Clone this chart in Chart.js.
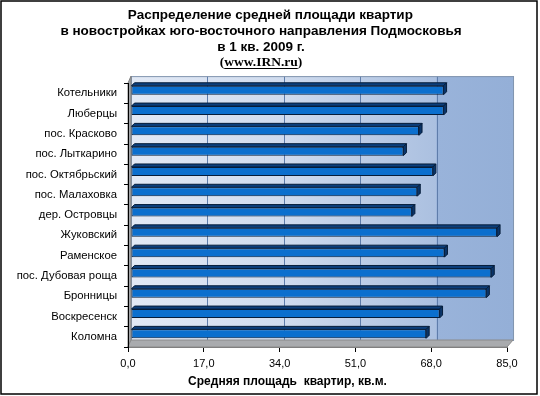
<!DOCTYPE html>
<html><head><meta charset="utf-8">
<script src="https://cdn.jsdelivr.net/npm/chart.js@4/dist/chart.umd.min.js"></script>
<style>html,body{margin:0;padding:0;background:#fff}</style>
</head><body>
<canvas id="c" width="540" height="396"></canvas>
<script>
const categories = ['Котельники','Люберцы','пос. Красково','пос. Лыткарино','пос. Октябрьский','пос. Малаховка','дер. Островцы','Жуковский','Раменское','пос. Дубовая роща','Бронницы','Воскресенск','Коломна'];
const avgArea = [70.1, 70.1, 64.6, 61.1, 67.7, 64.2, 63.0, 82.1, 70.3, 80.8, 79.7, 69.2, 66.2];
const xTickLabels = ['0,0','17,0','34,0','51,0','68,0','85,0'];
const titleLines = ['     Распределение средней площади квартир','в новостройках юго-восточного направления Подмосковья','в 1 кв. 2009 г.'];
const subtitleText = '(www.IRN.ru)';
const xAxisTitle = 'Средняя площадь  квартир, кв.м.';

const SANS = 'Arial, "Liberation Sans", sans-serif';
const SERIF = '"Times New Roman", "Liberation Serif", serif';
const DX = 3, DY = 7, K = 1.008;   // wall depth offset
const BX = 3, BY = 3;              // bar depth

const wallPlugin = {
  id: 'wall',
  beforeDraw(chart) {
    const ctx = chart.ctx;
    const {left, right, top, bottom} = chart.chartArea;
    const xs = chart.scales.x;
    const bxp = p => left + DX + (p - left) * K;
    const wl = bxp(left), wr = bxp(right), wt = top - DY, wb = bottom - DY;
    ctx.save();
    const g = ctx.createLinearGradient(wl, 0, wr, 0);
    const p68 = (bxp(xs.getPixelForValue(68)) - wl) / (wr - wl);
    g.addColorStop(0, '#e2e9f5');
    g.addColorStop(p68 * 0.5, '#cfdbee');
    g.addColorStop(p68 - 0.001, '#abc0e0');
    g.addColorStop(p68, '#99b3da');
    g.addColorStop(1, '#94afd7');
    ctx.fillStyle = g;
    ctx.fillRect(wl, wt, wr - wl, wb - wt);
    ctx.strokeStyle = '#5f7dab';
    ctx.lineWidth = 1;
    xs.ticks.forEach(t => {
      const x = Math.round(bxp(xs.getPixelForValue(t.value))) + 0.5;
      ctx.beginPath(); ctx.moveTo(x, wt); ctx.lineTo(x, wb); ctx.stroke();
    });
    ctx.strokeStyle = '#8497b0';
    ctx.strokeRect(wl + 0.5, wt + 0.5, wr - wl, wb - wt);
    ctx.beginPath();
    ctx.moveTo(left, top); ctx.lineTo(wl, wt); ctx.lineTo(wl, wb); ctx.lineTo(left, bottom); ctx.closePath();
    ctx.fillStyle = '#a3a5a8'; ctx.fill();
    ctx.strokeStyle = '#808080'; ctx.stroke();
    ctx.beginPath();
    ctx.moveTo(left, bottom); ctx.lineTo(right, bottom); ctx.lineTo(wr, wb); ctx.lineTo(wl, wb); ctx.closePath();
    ctx.fillStyle = '#a9abae'; ctx.fill();
    ctx.strokeStyle = '#8a8a8a'; ctx.stroke();
    ctx.restore();
  }
};

const bar3dPlugin = {
  id: 'bar3d',
  beforeDatasetsDraw(chart) {
    chart.ctx.save();
    chart.ctx.translate(3, -3);
  },
  afterDatasetsDraw(chart) {
    const ctx = chart.ctx;
    const meta = chart.getDatasetMeta(0);
    meta.data.forEach(el => {
      const {x, y, base, height} = el.getProps(['x','y','base','height'], true);
      const t = y - height / 2, b = y + height / 2;
      ctx.lineWidth = 1;
      ctx.strokeStyle = '#061d3a';
      ctx.beginPath();
      ctx.moveTo(base, t); ctx.lineTo(base + BX, t - BY); ctx.lineTo(x + BX, t - BY); ctx.lineTo(x, t); ctx.closePath();
      ctx.fillStyle = '#0c3f7c'; ctx.fill(); ctx.stroke();
      ctx.beginPath();
      ctx.moveTo(x, t); ctx.lineTo(x + BX, t - BY); ctx.lineTo(x + BX, b - BY); ctx.lineTo(x, b); ctx.closePath();
      ctx.fillStyle = '#0a3468'; ctx.fill(); ctx.stroke();
    });
    ctx.restore();
  }
};

const textPlugin = {
  id: 'texts',
  afterDraw(chart) {
    const ctx = chart.ctx;
    const xs = chart.scales.x;
    ctx.save();
    ctx.font = 'bold 12px ' + SANS;
    ctx.fillStyle = '#000';
    ctx.textAlign = 'center';
    ctx.textBaseline = 'middle';
    ctx.fillText(xAxisTitle, (xs.left + xs.right) / 2 - 30, xs.bottom - 14);
    const box = chart.boxes.find(bx => bx.options && bx.options.text === subtitleText);
    if (box) {
      ctx.font = 'bold 13.5px ' + SERIF;
      const full = ctx.measureText(subtitleText).width;
      const par = ctx.measureText('(').width;
      const link = ctx.measureText(subtitleText.slice(1, -1)).width;
      const cx = (box.left + box.right) / 2;
      const y = Math.round(box.top + 7.75 + 6) + 0.5;
      const x0 = cx - full / 2 + par;
      ctx.strokeStyle = '#000'; ctx.lineWidth = 1;
      ctx.beginPath(); ctx.moveTo(x0, y); ctx.lineTo(x0 + link, y); ctx.stroke();
    }
    ctx.strokeStyle = '#000'; ctx.lineWidth = 1.5;
    ctx.strokeRect(1, 1, 536, 393);
    ctx.restore();
  }
};

new Chart(document.getElementById('c'), {
  type: 'bar',
  data: {
    labels: categories,
    datasets: [{
      data: avgArea,
      backgroundColor: '#0b6fce',
      borderColor: '#061d3a',
      borderWidth: 1,
      borderSkipped: false,
      barPercentage: 0.49,
      categoryPercentage: 0.9
    }]
  },
  options: {
    indexAxis: 'y',
    responsive: false,
    animation: false,
    layout: {padding: {left: 15, right: 33, top: 0, bottom: 0}},
    plugins: {
      legend: {display: false},
      tooltip: {enabled: false},
      title: {
        display: true,
        text: titleLines,
        color: '#000',
        font: {family: SANS, size: 13.5, weight: 'bold', lineHeight: 1.15},
        padding: {top: 8, bottom: 0}
      },
      subtitle: {
        display: true,
        text: subtitleText,
        color: '#000',
        font: {family: SERIF, size: 13.5, weight: 'bold', lineHeight: 1.15},
        padding: {top: 0, bottom: 13}
      }
    },
    scales: {
      x: {
        min: 0, max: 85,
        afterFit(s) { s.height = 49; },
        ticks: {
          stepSize: 17,
          color: '#000',
          padding: 5,
          maxRotation: 0,
          font: {family: SANS, size: 11},
          callback: (v, i) => xTickLabels[i]
        },
        grid: {drawOnChartArea: false, tickLength: 5, color: '#000'},
        border: {color: '#808080'}
      },
      y: {
        afterFit(s) { s.width = 113; },
        ticks: {color: '#000', padding: 7, font: {family: SANS, size: 11.3}},
        grid: {drawOnChartArea: false, tickLength: 4, color: '#000'},
        border: {color: '#000'}
      }
    }
  },
  plugins: [wallPlugin, bar3dPlugin, textPlugin]
});
</script>
</body></html>
